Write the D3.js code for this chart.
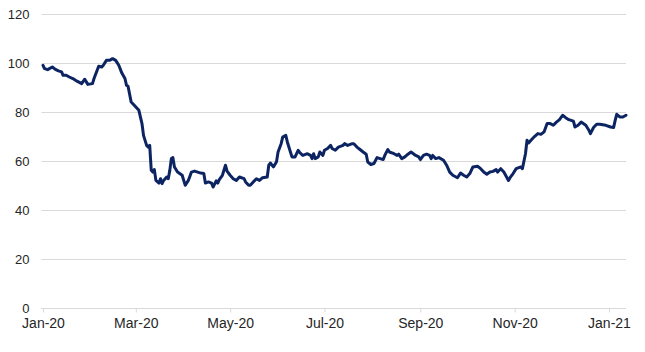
<!DOCTYPE html>
<html>
<head>
<meta charset="utf-8">
<script src="https://cdn.jsdelivr.net/npm/d3@7/dist/d3.min.js"></script>
<style>
  html, body { margin: 0; padding: 0; background: #fff; }
  svg { display: block; }
  text { font-family: "Liberation Sans", Arial, sans-serif; }
</style>
</head>
<body>
<svg id="chart" width="645" height="352"></svg>
<script>
// ---- data ----
const dates = [
  "2020-01-01","2020-01-02","2020-01-04","2020-01-07","2020-01-09","2020-01-11","2020-01-13","2020-01-14","2020-01-16","2020-01-18","2020-01-21","2020-01-23","2020-01-26","2020-01-28","2020-01-30",
  "2020-02-02","2020-02-03","2020-02-06","2020-02-08","2020-02-09","2020-02-11","2020-02-13","2020-02-15","2020-02-17","2020-02-19","2020-02-21","2020-02-23","2020-02-24","2020-02-25","2020-02-27","2020-02-29",
  "2020-03-03","2020-03-05","2020-03-06","2020-03-08","2020-03-09","2020-03-10","2020-03-11","2020-03-12","2020-03-13","2020-03-14","2020-03-16","2020-03-17","2020-03-18","2020-03-19","2020-03-21","2020-03-22","2020-03-23","2020-03-24","2020-03-25","2020-03-26","2020-03-28","2020-03-31",
  "2020-04-01","2020-04-02","2020-04-04","2020-04-06","2020-04-08","2020-04-12","2020-04-14","2020-04-15","2020-04-17","2020-04-19","2020-04-20","2020-04-22","2020-04-23","2020-04-24","2020-04-26","2020-04-28","2020-04-29",
  "2020-05-01","2020-05-03","2020-05-05","2020-05-07","2020-05-10","2020-05-11","2020-05-13","2020-05-14","2020-05-16","2020-05-18","2020-05-20","2020-05-22","2020-05-25","2020-05-26","2020-05-27","2020-05-29","2020-05-31",
  "2020-06-01","2020-06-03","2020-06-04","2020-06-06","2020-06-07","2020-06-09","2020-06-10","2020-06-12","2020-06-14","2020-06-15","2020-06-17","2020-06-20","2020-06-22","2020-06-23","2020-06-24","2020-06-25","2020-06-27","2020-06-28","2020-06-30",
  "2020-07-01","2020-07-03","2020-07-05","2020-07-06","2020-07-08","2020-07-10","2020-07-13","2020-07-14","2020-07-16","2020-07-19","2020-07-20","2020-07-22","2020-07-24","2020-07-26","2020-07-28","2020-07-29","2020-07-31",
  "2020-08-02","2020-08-04","2020-08-06","2020-08-08","2020-08-09","2020-08-11","2020-08-12","2020-08-15","2020-08-17","2020-08-18","2020-08-20","2020-08-22","2020-08-24","2020-08-26","2020-08-29","2020-08-31",
  "2020-09-01","2020-09-03","2020-09-05","2020-09-07","2020-09-08","2020-09-09","2020-09-11","2020-09-13","2020-09-16","2020-09-18","2020-09-20","2020-09-22","2020-09-25","2020-09-27","2020-09-29",
  "2020-10-01","2020-10-03","2020-10-05","2020-10-08","2020-10-10","2020-10-12","2020-10-14","2020-10-16","2020-10-18","2020-10-20","2020-10-21","2020-10-23","2020-10-25","2020-10-28","2020-10-29","2020-10-31",
  "2020-11-02","2020-11-05","2020-11-06","2020-11-08","2020-11-09","2020-11-10","2020-11-12","2020-11-14","2020-11-16","2020-11-18","2020-11-20","2020-11-22","2020-11-24","2020-11-26","2020-11-28","2020-11-30",
  "2020-12-02","2020-12-04","2020-12-06","2020-12-09","2020-12-10","2020-12-12","2020-12-14","2020-12-17","2020-12-19","2020-12-20","2020-12-22","2020-12-24","2020-12-26","2020-12-30",
  "2021-01-02","2021-01-04","2021-01-05","2021-01-06","2021-01-08","2021-01-10","2021-01-12"
];
const values = [
  99.2,97.8,97.4,98.5,97.5,96.9,96.5,95.1,95.1,94.4,93.5,92.7,91.7,93.5,91.4,
  91.7,93.8,98.8,98.5,99.2,101.2,101.2,101.9,101.2,99.2,96.0,93.8,91.0,90.6,84.2,82.9,
  80.8,75.4,70.6,66.5,65.8,66.5,56.3,55.6,56.6,52.2,51.1,52.9,50.9,52.2,53.6,52.9,56.3,61.1,61.5,57.7,55.6,54.3,
  52.2,50.2,52.2,55.6,56.0,55.2,55.0,51.1,51.6,51.1,49.5,52.0,51.1,52.5,54.3,58.4,56.0,
  54.3,52.9,52.2,53.6,52.9,51.6,50.2,50.2,51.6,52.9,52.2,53.3,53.6,58.4,59.3,57.7,59.8,
  63.8,67.2,69.9,70.6,67.9,63.8,61.8,61.8,64.5,63.6,62.4,63.1,62.4,61.1,63.1,61.1,61.8,63.8,62.4,
  64.5,65.2,66.5,65.2,64.5,65.8,66.5,67.2,66.5,67.2,67.2,65.8,64.8,63.8,62.9,59.7,58.7,
  59.1,61.5,61.1,60.7,62.4,64.8,63.8,63.1,62.4,62.9,61.1,61.8,62.9,63.8,62.4,61.8,
  60.7,62.4,62.9,62.4,61.1,62.4,61.1,61.5,60.4,58.4,55.6,54.3,53.3,55.2,54.3,
  53.6,55.0,57.7,58.0,57.0,55.6,54.7,55.6,55.9,56.6,55.6,57.0,55.6,52.2,53.3,55.0,
  57.0,57.7,57.0,63.1,68.6,67.5,68.9,70.2,71.3,71.0,72.0,75.4,75.4,74.7,76.0,77.0,
  78.8,77.8,77.0,76.4,74.0,74.7,76.0,74.7,72.7,71.3,73.8,75.1,75.1,74.7,
  74.0,73.8,76.7,79.2,78.1,78.1,78.8
];
const yTicks = [0, 20, 40, 60, 80, 100, 120];
const xTickDates = ["2020-01-01","2020-03-01","2020-05-01","2020-07-01","2020-09-01","2020-11-01","2021-01-01"];
const xTickLabels = ["Jan-20","Mar-20","May-20","Jul-20","Sep-20","Nov-20","Jan-21"];
const xDomain = ["2020-01-01","2021-01-12"];

// ---- drawing ----
const parse = d3.utcParse("%Y-%m-%d");
const data = dates.map((d, i) => ({ date: parse(d), value: values[i] }));

const svg = d3.select("#chart");
const plotLeft = 43, plotRight = 626, plotTop = 14.3, plotBottom = 308.3;

const x = d3.scaleUtc().domain(xDomain.map(parse)).range([plotLeft, plotRight]);
const y = d3.scaleLinear().domain([0, 120]).range([plotBottom, plotTop]);

// gridlines
svg.append("g")
  .selectAll("line")
  .data(yTicks)
  .join("line")
  .attr("x1", plotLeft - 1.5)
  .attr("x2", plotRight)
  .attr("y1", d => Math.round(y(d)) + 0.5)
  .attr("y2", d => Math.round(y(d)) + 0.5)
  .attr("stroke", "#d9d9d9")
  .attr("stroke-width", 1);

// y labels
svg.append("g")
  .selectAll("text")
  .data(yTicks)
  .join("text")
  .attr("x", 29.5)
  .attr("y", d => y(d))
  .attr("dy", "0.35em")
  .attr("text-anchor", "end")
  .attr("font-size", 13)
  .attr("fill", "#262626")
  .text(d => d);

// x axis
const xTicks = xTickDates.map(parse);
const xAxis = d3.axisBottom(x)
  .tickValues(xTicks)
  .tickSize(4)
  .tickPadding(6)
  .tickFormat((d, i) => xTickLabels[i]);

const gx = svg.append("g")
  .attr("transform", `translate(0,${Math.round(plotBottom) + 0.5})`)
  .call(xAxis);
gx.select(".domain").attr("stroke", "#d9d9d9").attr("d", `M${plotLeft - 1.5},0H${plotRight}`);
gx.selectAll(".tick line").attr("stroke", "#d9d9d9");
gx.selectAll(".tick text")
  .attr("font-size", 14)
  .attr("font-family", "'Liberation Sans', Arial, sans-serif")
  .attr("fill", "#262626");

// line
const line = d3.line()
  .x(d => x(d.date))
  .y(d => y(d.value));

svg.append("path")
  .datum(data)
  .attr("fill", "none")
  .attr("stroke", "#0c2461")
  .attr("stroke-width", 3)
  .attr("stroke-linejoin", "round")
  .attr("stroke-linecap", "round")
  .attr("d", line);
</script>
</body>
</html>
